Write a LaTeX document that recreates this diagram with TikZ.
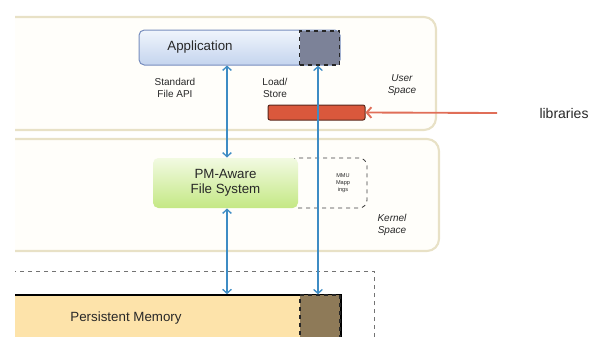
\documentclass[tikz,border=0pt]{standalone}
\usepackage{fontspec}
\setmainfont{Liberation Sans}
\usetikzlibrary{arrows.meta}

\definecolor{panelrim}{RGB}{232,225,198}
\definecolor{panelfill}{RGB}{255,254,250}
\definecolor{busblue}{RGB}{62,140,196}
\definecolor{libred}{RGB}{218,88,60}
\definecolor{libarrow}{RGB}{224,110,88}
\definecolor{pmfill}{RGB}{253,227,170}
\definecolor{pmcache}{RGB}{142,122,88}
\definecolor{appcache}{RGB}{124,130,152}
\definecolor{inktext}{RGB}{40,40,40}

\tikzset{every picture/.style={line width=0.75pt}}
\tikzset{
  panel/.style={draw=panelrim, line width=1.6pt, fill=panelfill, rounded corners=9pt},
  bus/.style={busblue, line width=1pt, {Straight Barb[length=3pt,width=6.5pt]}-{Straight Barb[length=3pt,width=6.5pt]}},
  cachebox/.style={draw=black!85, dashed, line width=1pt, inner sep=0pt},
  lbl/.style={inner sep=0.75pt, align=center, text=inktext, font=\fontsize{7.5}{8.5}\selectfont},
}

\begin{document}
\begin{tikzpicture}[x=0.75pt,y=0.75pt,yscale=-1,xscale=1]
\path[use as bounding box] (0,0) rectangle (606,336);

\begin{scope}
\clip (15,0) rectangle (606,336);
% User space and kernel space panels
\draw [panel] (-10,17) rectangle (436,130);
\draw [panel] (-10,139) rectangle (439,251);

% Application with its mapped region
\node (app) [draw={rgb,255:red,120;green,142;blue,190}, rounded corners=4pt, top color={rgb,255:red,240;green,245;blue,252}, bottom color={rgb,255:red,196;green,212;blue,238}, minimum width=150.75pt, minimum height=26.25pt, inner sep=0pt] at (239.5,47.5) {};
\node (appmap) [cachebox, fill=appcache, minimum width=30pt, minimum height=25.5pt] at (319.5,48) {};
\draw (200,47.5) node (apptxt) [inner sep=0.75pt, text=inktext, font=\fontsize{10}{11}\selectfont] {Application};

% libraries bar
\node (lib) [draw={rgb,255:red,90;green,40;blue,28}, fill=libred, rounded corners=1.5pt, minimum width=72.75pt, minimum height=11.25pt, inner sep=0pt] at (316.5,112.5) {};

% MMU mappings behind the file system
\node (mmu) [draw=black!75, dashed, line width=0.6pt, rounded corners=6pt, minimum width=57.75pt, minimum height=37.5pt, inner sep=0pt] at (328.5,183) {};
\draw (343,183) node (mmutxt) [inner sep=0.5pt, align=center, text=inktext, font=\fontsize{4.2}{5.2}\selectfont] {MMU\\Mapp\\ings};
\node (fs) [rounded corners=4pt, top color={rgb,255:red,242;green,250;blue,226}, bottom color={rgb,255:red,196;green,232;blue,132}, minimum width=108.75pt, minimum height=37.5pt, inner sep=0pt, align=center, text=inktext, font=\fontsize{10}{11.5}\selectfont] at (225.5,183) {PM-Aware\\File System};

% Persistent memory
\draw [black!55, dashed, line width=0.6pt] (-10,271) rectangle (374,360);
\node (pm) [draw=black, line width=1.2pt, fill=pmfill, minimum width=252pt, minimum height=45pt, inner sep=0pt] at (173,325) {};
\node (pmmap) [cachebox, fill=pmcache, minimum width=30pt, minimum height=45pt] at (320,325) {};
\draw (126,318) node (pmtxt) [inner sep=0.75pt, text=inktext, font=\fontsize{10}{11}\selectfont] {Persistent Memory};
\end{scope}

% Text Node
\draw (175,88) node (sfapi) [lbl] {Standard\\File API};
% Text Node
\draw (275,88) node (ldst) [lbl] {Load/\\Store};
% Text Node
\draw (402,85) node (usr) [lbl, font=\fontsize{7.5}{8.5}\selectfont\itshape] {User\\Space};
% Text Node
\draw (392,225) node (krn) [lbl, font=\fontsize{7.5}{8.5}\selectfont\itshape] {Kernel\\Space};
% Text Node
\draw (564,113) node (libtxt) [inner sep=0.75pt, text=inktext, font=\fontsize{10.5}{12}\selectfont] {libraries};
\coordinate (libtail) at (497,113);

% Access paths
\draw [bus] (app.south -| 227,0) -- (fs.north -| 227,0);
\draw [bus] (fs.south -| 227,0) -- (pm.north -| 227,0);
\draw [bus] (appmap.south -| 318,0) -- (pmmap.north -| 318,0);
\draw [libarrow, line width=1.4pt, -{Straight Barb[length=3.5pt,width=8pt]}] (libtail) -- (lib.east);

\end{tikzpicture}
\end{document}
